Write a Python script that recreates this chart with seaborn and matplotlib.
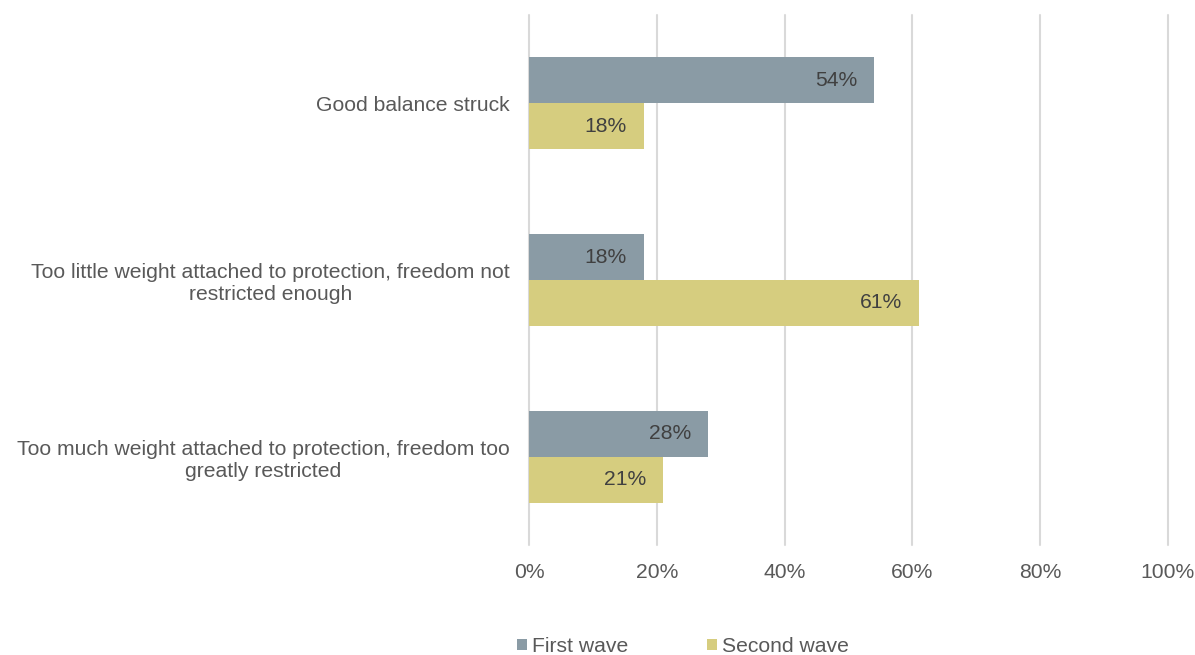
import matplotlib
matplotlib.use("Agg")
import matplotlib.pyplot as plt
import seaborn as sns
import pandas as pd
from matplotlib.patches import Patch

categories = [
    "Good balance struck",
    "Too little weight attached to protection, freedom not\nrestricted enough",
    "Too much weight attached to protection, freedom too\ngreatly restricted",
]
series = ["First wave", "Second wave"]
first_wave = [54, 18, 28]
second_wave = [18, 61, 21]
colors = ["#8A9BA5", "#D6CD7F"]
xticks = [0, 20, 40, 60, 80, 100]

sns.set_theme(style="white")
plt.rcParams["font.family"] = ["Liberation Sans", "DejaVu Sans"]

df = pd.DataFrame({
    "category": categories * 2,
    "series": [series[0]] * 3 + [series[1]] * 3,
    "value": first_wave + second_wave,
})

fs = 15.2
fig = plt.figure(figsize=(11.95, 6.55), dpi=100)
ax = fig.add_axes([0.4427, 0.168, 0.5347, 0.809])
sns.barplot(data=df, y="category", x="value", hue="series", orient="h",
            palette=colors, width=0.52, ax=ax, legend=False, saturation=1,
            linewidth=0, edgecolor="none")

txt = "#595959"
ax.set_xlim(0, 100)
ax.set_ylim(2.5, -0.5)
ax.set_xticks(xticks)
ax.set_xticklabels([f"{t}%" for t in xticks], fontsize=fs, color=txt)
ax.tick_params(axis="x", pad=13, length=0)
ax.tick_params(axis="y", length=0, pad=14)
for lab in ax.get_yticklabels():
    lab.set_fontsize(fs)
    lab.set_color(txt)
    lab.set_multialignment("center")
ax.set_xlabel("")
ax.set_ylabel("")
ax.grid(axis="x", color="#D9D9D9", linewidth=1.5)
for gl in ax.get_xgridlines():
    gl.set_clip_on(False)
ax.set_axisbelow(True)
for s in ax.spines.values():
    s.set_visible(False)

for cont in ax.containers:
    for patch, v in zip(cont.patches, cont.datavalues):
        ax.annotate(f"{v:.0f}%", xy=(patch.get_x() + patch.get_width(),
                                     patch.get_y() + patch.get_height() / 2),
                    xytext=(-17, 0), textcoords="offset pixels",
                    ha="right", va="center", fontsize=fs, color="#404040")

handles = [Patch(facecolor=c, edgecolor="none") for c in colors]
fig.legend(handles, series, loc="center", bbox_to_anchor=(0.5715, 0.013),
           ncol=2, frameon=False, fontsize=fs, handlelength=0.47,
           handleheight=0.47, handletextpad=0.25, columnspacing=3.7,
           labelcolor=txt)

fig.savefig("out.png", dpi=100)
